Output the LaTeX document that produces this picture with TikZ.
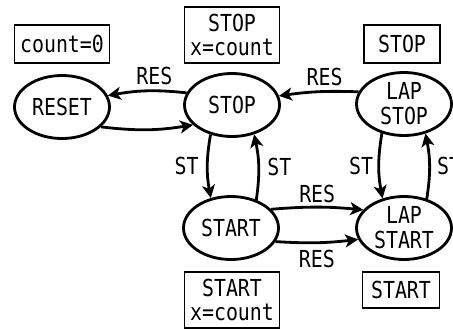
\documentclass[tikz,border=0pt]{standalone}
\usepackage{fontspec}
\setmainfont{DejaVu Sans Mono}[FakeStretch=0.85]
\usepackage{tikz}
\usetikzlibrary{arrows,arrows.meta,shapes}

\begin{document}
\begin{tikzpicture}[font=\fontsize{23.5}{25}\selectfont,
  state/.style={draw,ellipse,line width=2.8bp,minimum width=95bp,minimum height=63bp,inner sep=0pt,align=center},
  outbox/.style={draw,rectangle,line width=1.4bp,inner sep=0pt,align=center},
  trans/.style={-{Stealth[length=13bp,width=13bp,inset=3.5bp]},line width=2.8bp}]
\useasboundingbox (0bp,0bp) rectangle (453bp,-329bp);
% states
\node (reset) at (62bp,-107bp)[state] {RESET};
\node (stop) at (232bp,-105bp)[state] {STOP};
\node (lapstop) at (404bp,-104bp)[state] {LAP\\STOP};
\node (start) at (231bp,-228bp)[state] {START};
\node (lapstart) at (404bp,-228bp)[state] {LAP\\START};
% outputs
\node (resetout) at (62bp,-44bp)[outbox,minimum width=95bp,minimum height=38bp] {count=0};
\node (stopout) at (232bp,-35bp)[outbox,minimum width=95bp,minimum height=56bp] {STOP\\x=count};
\node (lapstopout) at (402bp,-44bp)[outbox,minimum width=76bp,minimum height=38bp] {STOP};
\node (startout) at (232bp,-300bp)[outbox,minimum width=95bp,minimum height=56bp] {START\\x=count};
\node (lapstartout) at (401bp,-290bp)[outbox,minimum width=77bp,minimum height=36bp] {START};
% transitions
\draw [trans] (stop.165) to[bend right=8] node[pos=0.4,above=1bp] {RES} (reset.14);
\draw [trans] (reset.333) to[bend right=8] (stop.207);
\draw [trans] (stop.234) to[bend right=10] node[left=4bp] {ST} (start.124);
\draw [trans] (start.48) to[bend right=10] node[right=4bp] {ST} (stop.307);
\draw [trans] (lapstop.165) to[bend right=5] node[pos=0.42,above=1bp] {RES} (stop.11);
\draw [trans] (lapstop.233) to[bend right=10] node[left=1bp] {ST} (lapstart.126);
\draw [trans] (lapstart.52) to[bend right=10] node[right=3bp] {ST} (lapstop.306);
\draw [trans] (start.25) to[bend left=5] node[above=0bp] {RES} (lapstart.156);
\draw [trans] (start.343) to[bend right=5] node[below=3bp] {RES} (lapstart.194);
\end{tikzpicture}
\end{document}
